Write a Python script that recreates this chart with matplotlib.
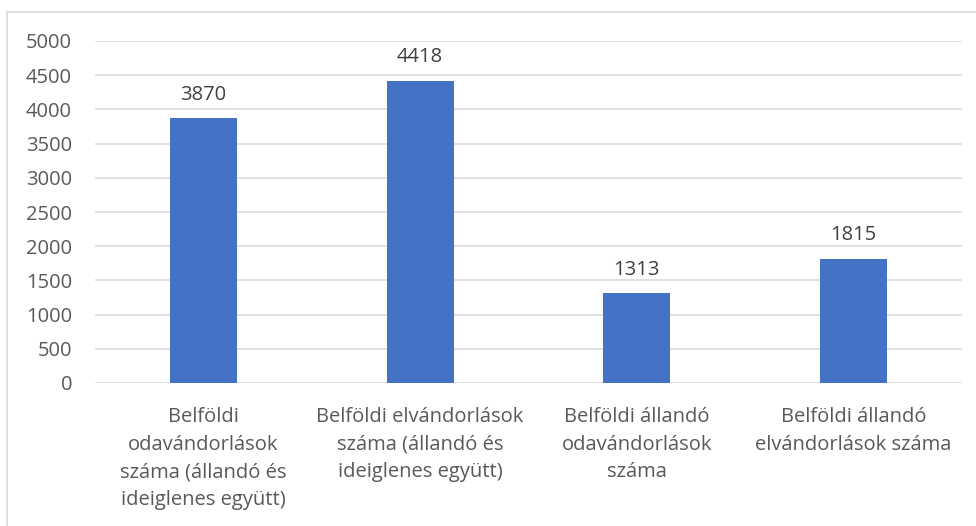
import matplotlib
matplotlib.use("Agg")
import matplotlib.pyplot as plt
from matplotlib.patches import Rectangle

categories = [
    "Belföldi\nodavándorlások\nszáma (állandó és\nideiglenes együtt)",
    "Belföldi elvándorlások\nszáma (állandó és\nideiglenes együtt)",
    "Belföldi állandó\nodavándorlások\nszáma",
    "Belföldi állandó\nelvándorlások száma",
]
values = [3870, 4418, 1313, 1815]
yticks = [0, 500, 1000, 1500, 2000, 2500, 3000, 3500, 4000, 4500, 5000]

plt.rcParams['font.family'] = ['Open Sans', 'DejaVu Sans']

W, H = 976, 526
fig = plt.figure(figsize=(W / 100, H / 100), dpi=100)

# chart border (only left and top edges visible in the crop)
fig.patches.append(Rectangle((7 / W, -0.2), 1.2, 1 - 12 / H + 0.2,
                             transform=fig.transFigure, fill=False,
                             edgecolor='#d9d9d9', lw=1.2, clip_on=False))

ax = fig.add_axes([95 / W, 1 - 383 / H, (962 - 95) / W, (383 - 41) / H])
x = range(len(values))
ax.bar(x, values, width=0.31, color='#4472C4', zorder=3)
ax.set_xlim(-0.5, len(values) - 0.5)
ax.set_ylim(0, 5000)
ax.set_yticks(yticks)
ax.grid(axis='y', color='#d9d9d9', lw=1.1, zorder=0)
for s in ax.spines.values():
    s.set_visible(False)
ax.tick_params(length=0, labelsize=14.5, colors='#595959')
ax.tick_params(axis='y', pad=16.5)
ax.tick_params(axis='x', pad=17.5)
ax.set_xticks(list(x))
ax.set_xticklabels(categories, linespacing=1.5, va='top')

for i, v in enumerate(values):
    ax.annotate(str(v), (i, v), xytext=(0, 17), textcoords='offset points',
                ha='center', va='center', fontsize=14.5, color='#404040')

fig.savefig('out.png', dpi=100)
